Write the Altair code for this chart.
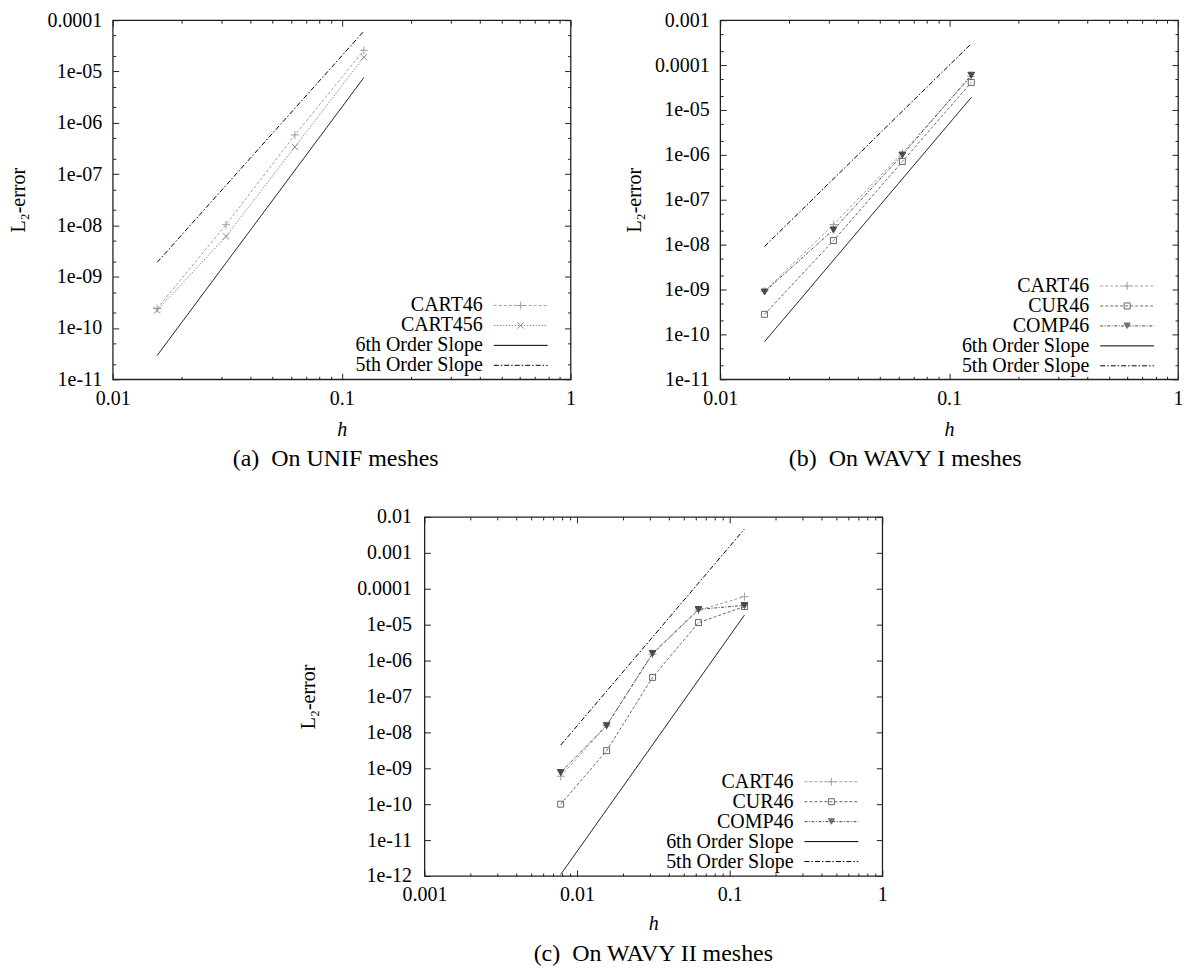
import altair as alt
import pandas as pd

FONT = "Liberation Serif"

# ---------------- values ----------------
# (a) On UNIF meshes
H_A = [0.015625, 0.03125, 0.0625, 0.125]
A_CART46 = [2.4e-10, 1.03e-8, 5.8e-7, 2.6e-5]
A_CART456 = [2.2e-10, 6.1e-9, 3.4e-7, 1.9e-5]
A_SLOPE_H = [0.015625, 0.125]
A_SIXTH = [2.9e-11, 7.6e-6]
A_FIFTH = [1.9e-9, 6.1e-5]

# (b) On WAVY I meshes
H_B = [0.015625, 0.03125, 0.0625, 0.125]
B_CART46 = [9.2e-10, 2.8e-8, 1.1e-6, 5.6e-5]
B_CUR46 = [2.8e-10, 1.23e-8, 7.1e-7, 4.1e-5]
B_COMP46 = [8.9e-10, 2.15e-8, 1.0e-6, 6.0e-5]
B_SLOPE_H = [0.015625, 0.125]
B_SIXTH = [6.9e-11, 1.9e-5]
B_FIFTH = [9.1e-9, 3.0e-4]

# (c) On WAVY II meshes
H_C = [0.0078125, 0.015625, 0.03125, 0.0625, 0.125]
C_CART46 = [6.0e-10, 1.53e-8, 1.5e-6, 2.55e-5, 6.0e-5]
C_CUR46 = [1.0e-10, 3.1e-9, 3.4e-7, 1.14e-5, 3.2e-5]
C_COMP46 = [7.7e-10, 1.55e-8, 1.6e-6, 2.66e-5, 3.45e-5]
C_SLOPE_H = [0.0078125, 0.125]
C_SIXTH = [1.1e-12, 1.85e-5]
C_FIFTH = [4.4e-9, 4.6e-3]

# tick values / labels
X_TICKS_AB = [0.01, 0.1, 1]
X_LABELS_AB = ["0.01", "0.1", "1"]
X_TICKS_C = [0.001, 0.01, 0.1, 1]
X_LABELS_C = ["0.001", "0.01", "0.1", "1"]
Y_TICKS_A = [1e-11, 1e-10, 1e-9, 1e-8, 1e-7, 1e-6, 1e-5, 1e-4]
Y_LABELS_A = ["1e-11", "1e-10", "1e-09", "1e-08", "1e-07", "1e-06", "1e-05", "0.0001"]
Y_TICKS_B = [1e-11, 1e-10, 1e-9, 1e-8, 1e-7, 1e-6, 1e-5, 1e-4, 1e-3]
Y_LABELS_B = ["1e-11", "1e-10", "1e-09", "1e-08", "1e-07", "1e-06", "1e-05", "0.0001", "0.001"]
Y_TICKS_C = [1e-12, 1e-11, 1e-10, 1e-9, 1e-8, 1e-7, 1e-6, 1e-5, 1e-4, 1e-3, 1e-2]
Y_LABELS_C = ["1e-12", "1e-11", "1e-10", "1e-09", "1e-08", "1e-07", "1e-06", "1e-05",
              "0.0001", "0.001", "0.01"]

SIXTH = "6th Order Slope"
FIFTH = "5th Order Slope"

# ---------------- styles ----------------
STYLE = {
    "CART46": {"color": "#a0a0a0", "dash": [3, 2], "marker": "plus"},
    "CART456": {"color": "#8a8a8a", "dash": [1.5, 1.5], "marker": "x"},
    "CUR46": {"color": "#666666", "dash": [3, 2], "marker": "square"},
    "COMP46": {"color": "#4a4a4a", "dash": [3, 1.5, 1, 1.5], "marker": "tri"},
    SIXTH: {"color": "#000000", "dash": [1, 0], "marker": None},
    FIFTH: {"color": "#000000", "dash": [5, 2, 1.5, 2], "marker": None},
}

POINT_PATH = {
    "plus": "M-1,0H1M0,-1V1",
    "x": "M-0.8,-0.8L0.8,0.8M-0.8,0.8L0.8,-0.8",
    "square": "M-0.75,-0.75H0.75V0.75H-0.75Z",
    "tri": "M-0.85,-0.7H0.85L0,0.8Z",
}

UNIT = 5.0      # px per path unit in the legend (symbolSize 100)
HALF = 27.0     # half width of the legend line sample, px
FS = 20         # tick / legend font size


def legend_line(pattern):
    if pattern[1] == 0:
        return f"M{-HALF / UNIT:.3f},0H{HALF / UNIT:.3f}"
    segs, x, i = [], -HALF, 0
    while x < HALF - 1e-9:
        seg = pattern[i % len(pattern)]
        x2 = min(x + seg, HALF)
        if i % 2 == 0:
            segs.append(f"M{x / UNIT:.3f},0H{x2 / UNIT:.3f}")
        x = x2
        i += 1
    return "".join(segs)


def legend_marker(kind):
    if kind == "plus":
        return "M-0.8,0H0.8M0,-0.8V0.8"
    if kind == "x":
        return "M-0.65,-0.65L0.65,0.65M-0.65,0.65L0.65,-0.65"
    if kind == "square":
        return "M-0.6,-0.6H0.6V0.6H-0.6Z"
    if kind == "tri":
        out = []
        y = -0.56
        while y <= 0.6:
            w = 0.68 * (0.66 - y) / 1.22
            out.append(f"M{-w:.3f},{y:.3f}H{w:.3f}")
            y += 0.2
        return "".join(out)
    return ""


def legend_symbol(name):
    st = STYLE[name]
    p = legend_line(st["dash"])
    if st["marker"]:
        p += legend_marker(st["marker"])
    return p


def decade_minor(ticks, mults):
    out = []
    for t in ticks[:-1]:
        for m in mults:
            out.append(t * m)
    return out


def label_expr(labels, first_exp):
    arr = "[" + ",".join("'" + s + "'" for s in labels) + "]"
    return f"{arr}[round(log(datum.value)/LN10) - ({first_exp})]"


def tick_axis(orient, values, size):
    return alt.Axis(orient=orient, values=values, labels=False, domain=False, grid=False,
                    ticks=True, tickSize=size, offset=-size, tickColor="#222222",
                    tickWidth=1, title=None)


W, H = 459, 360


def build_panel(p):
    rows = []
    for name, vals in p["series"]:
        for hv, ev in zip(p["h"], vals):
            rows.append({"h": hv, "err": ev, "series": name, "kind": "data"})
    for name, vals in p["slopes"]:
        for hv, ev in zip(p["slope_h"], vals):
            rows.append({"h": hv, "err": ev, "series": name, "kind": "slope"})
    df = pd.DataFrame(rows)

    data_names = [n for n, _ in p["series"]]
    names = data_names + [n for n, _ in p["slopes"]]
    colors = [STYLE[n]["color"] for n in names]
    dashes = [STYLE[n]["dash"] for n in names]

    xs = alt.Scale(type="log", domain=p["xdom"], nice=False)
    ys = alt.Scale(type="log", domain=p["ydom"], nice=False)

    def X(axis):
        return alt.X("h:Q", scale=xs, axis=axis, title=None)

    def Y(axis):
        return alt.Y("err:Q", scale=ys, axis=axis, title=None)

    xlab = alt.Axis(orient="bottom", values=p["xticks"],
                    labelExpr=label_expr(p["xlabels"], p["xe0"]),
                    ticks=False, domain=False, grid=False, labelPadding=9,
                    labelFlush=False, labelOverlap=False,
                    title="h", titleFontStyle="italic", titleX=W / 2, titleY=p["xty"],
                    titleBaseline="middle", titleAlign="center")
    ylab = alt.Axis(orient="left", values=p["yticks"],
                    labelExpr=label_expr(p["ylabels"], p["ye0"]),
                    ticks=False, domain=False, grid=False, labelPadding=p["ylpad"],
                    labelFlush=False, labelOverlap=False,
                    title="L₂-error", titleX=p["ytx"], titleY=H / 2, titleAngle=270,
                    titleBaseline="middle", titleAlign="center")

    xminor = decade_minor(p["xticks"], [2, 3, 4, 5, 6, 7, 8, 9])
    yminor = decade_minor(p["yticks"], p["ymult"]) if p["ymult"] else []

    base = alt.Chart(df)
    color_scale = alt.Scale(domain=names, range=colors)

    lines = base.mark_line(strokeWidth=1).encode(
        x=X(xlab), y=Y(ylab),
        color=alt.Color("series:N", scale=color_scale, legend=None),
        strokeDash=alt.StrokeDash("series:N", scale=alt.Scale(domain=names, range=dashes),
                                  legend=None),
    )

    points = base.transform_filter(alt.datum.kind == "data").mark_point(
        opacity=1, strokeWidth=1, size=64, filled=False
    ).encode(
        x=X(tick_axis("bottom", p["xticks"], 6)),
        y=Y(tick_axis("left", p["yticks"], 6)),
        color=alt.Color("series:N", scale=alt.Scale(domain=data_names,
                                                    range=[STYLE[n]["color"] for n in data_names]),
                        legend=None),
        shape=alt.Shape("series:N", scale=alt.Scale(domain=data_names,
                                                    range=[POINT_PATH[STYLE[n]["marker"]] for n in data_names]),
                        legend=None),
        fill=alt.condition(alt.datum.series == "COMP46", alt.value(STYLE["COMP46"]["color"]),
                           alt.value("transparent")),
    )

    minor1 = base.mark_point(opacity=0).encode(
        x=X(tick_axis("bottom", xminor, 3)),
        y=Y(tick_axis("left", yminor, 3) if yminor else None),
    )
    major2 = base.mark_point(opacity=0).encode(
        x=X(tick_axis("top", p["xticks"], 6)),
        y=Y(tick_axis("right", p["yticks"], 6)),
    )
    minor2 = base.mark_point(opacity=0).encode(
        x=X(tick_axis("top", xminor, 3)),
        y=Y(tick_axis("right", yminor, 3) if yminor else None),
    )

    leg = alt.Legend(title=None, orient="none", legendX=p["lx"], legendY=p["ly"],
                     symbolSize=100, symbolStrokeWidth=1, symbolOpacity=1,
                     symbolFillColor="transparent",
                     labelAlign="right", labelOffset={"expr": "-48"}, labelFont=FONT,
                     labelFontSize=FS, labelColor="black", labelLimit=400,
                     rowPadding={"expr": p["rowpad"]}, padding=0)
    legend_layer = base.transform_filter("false").mark_point(
        opacity=1, filled=False, strokeWidth=1
    ).encode(
        x=X(None), y=Y(None),
        color=alt.Color("series:N", scale=alt.Scale(domain=names, range=colors), legend=leg),
        shape=alt.Shape("series:N", scale=alt.Scale(domain=names,
                                                    range=[legend_symbol(n) for n in names]),
                        legend=leg),
    )

    return alt.layer(lines, points, minor1, major2, minor2, legend_layer).resolve_scale(
        color="independent", shape="independent", strokeDash="independent"
    ).resolve_axis(x="independent", y="independent").properties(
        width=W, height=H,
        title=alt.TitleParams(text=p["caption"], orient="bottom", anchor="middle", frame="group",
                              font=FONT, fontSize=24, fontWeight="normal", color="black",
                              offset=8, dx=p["cdx"]),
    )


NB = "\u00a0"
PA = dict(h=H_A, series=[("CART46", A_CART46), ("CART456", A_CART456)],
          slope_h=A_SLOPE_H, slopes=[(SIXTH, A_SIXTH), (FIFTH, A_FIFTH)],
          xdom=[0.01, 1], ydom=[1e-11, 1e-4], xticks=X_TICKS_AB, xlabels=X_LABELS_AB, xe0=-2,
          yticks=Y_TICKS_A, ylabels=Y_LABELS_A, ye0=-11, ymult=[2, 5],
          ytx=-94, ylpad=11, xty=50, lx=399, ly=276, rowpad="-1.7",
          caption="(a)" + NB + " On UNIF meshes", cdx=-6)
PB = dict(h=H_B, series=[("CART46", B_CART46), ("CUR46", B_CUR46), ("COMP46", B_COMP46)],
          slope_h=B_SLOPE_H, slopes=[(SIXTH, B_SIXTH), (FIFTH, B_FIFTH)],
          xdom=[0.01, 1], ydom=[1e-11, 1e-3], xticks=X_TICKS_AB, xlabels=X_LABELS_AB, xe0=-2,
          yticks=Y_TICKS_B, ylabels=Y_LABELS_B, ye0=-11, ymult=[2, 5],
          ytx=-86, ylpad=11, xty=50, lx=398, ly=256.5, rowpad="-1.5",
          caption="(b)" + NB + " On WAVY I meshes", cdx=-44)
PC = dict(h=H_C, series=[("CART46", C_CART46), ("CUR46", C_CUR46), ("COMP46", C_COMP46)],
          slope_h=C_SLOPE_H, slopes=[(SIXTH, C_SIXTH), (FIFTH, C_FIFTH)],
          xdom=[0.001, 1], ydom=[1e-12, 1e-2], xticks=X_TICKS_C, xlabels=X_LABELS_C, xe0=-3,
          yticks=Y_TICKS_C, ylabels=Y_LABELS_C, ye0=-12, ymult=[],
          ytx=-116, ylpad=13, xty=48, lx=398, ly=255.5, rowpad="-1.3",
          caption="(c)" + NB + " On WAVY II meshes", cdx=0)

a = build_panel(PA)
b = build_panel(PB)
c = build_panel(PC)

spacer = alt.Chart(pd.DataFrame({"v": [0]})).mark_point(opacity=0).properties(
    width=160, height=10, view=alt.ViewBackground(stroke="transparent"))

top = alt.hconcat(a, b, spacing=47)
bottom = alt.hconcat(spacer, c, spacing=24.5)

chart = alt.vconcat(top, bottom, spacing=34).properties(
    padding={"left": 0, "top": 0, "right": 0, "bottom": 0}
).configure_view(
    stroke="#222222", strokeWidth=1.3
).configure_axis(
    labelFont=FONT, labelFontSize=FS, labelColor="black",
    titleFont=FONT, titleFontSize=FS, titleFontWeight="normal", titleColor="black",
)

chart.save("out.html", embed_options={"renderer": "svg", "actions": False})
